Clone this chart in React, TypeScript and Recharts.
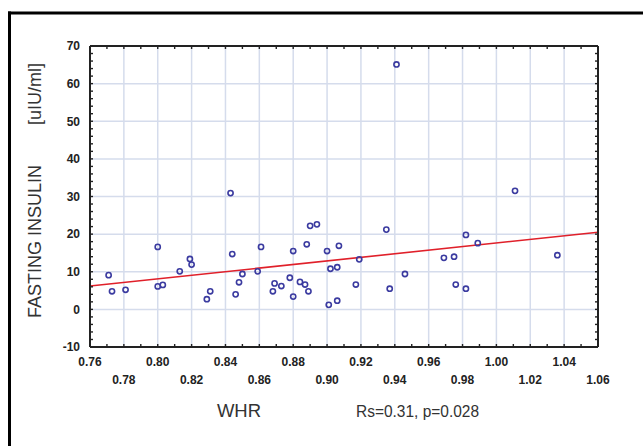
import React from 'react';
import { ScatterChart, Scatter, XAxis, YAxis, ReferenceLine } from 'recharts';

const whr = [0.771, 0.773, 0.781, 0.800, 0.800, 0.803, 0.813, 0.819, 0.820, 0.829, 0.831, 0.843, 0.844, 0.846, 0.848, 0.850, 0.859, 0.861, 0.868, 0.869, 0.873, 0.878, 0.880, 0.880, 0.884, 0.887, 0.889, 0.888, 0.890, 0.894, 0.900, 0.901, 0.902, 0.906, 0.906, 0.907, 0.917, 0.919, 0.935, 0.937, 0.941, 0.946, 0.969, 0.975, 0.976, 0.982, 0.982, 0.989, 1.011, 1.036];
const insulin = [9.1, 4.8, 5.2, 16.6, 6.1, 6.5, 10.1, 13.4, 11.9, 2.7, 4.8, 30.9, 14.7, 4.0, 7.2, 9.4, 10.1, 16.6, 4.8, 6.9, 6.2, 8.4, 15.5, 3.4, 7.3, 6.6, 4.8, 17.3, 22.2, 22.6, 15.5, 1.2, 10.8, 11.2, 2.3, 16.9, 6.6, 13.3, 21.2, 5.5, 65.1, 9.4, 13.7, 14.0, 6.6, 19.8, 5.5, 17.6, 31.5, 14.4];

const xTicks = [0.76, 0.77, 0.78, 0.79, 0.80, 0.81, 0.82, 0.83, 0.84, 0.85, 0.86, 0.87, 0.88, 0.89, 0.90, 0.91, 0.92, 0.93, 0.94, 0.95, 0.96, 0.97, 0.98, 0.99, 1.00, 1.01, 1.02, 1.03, 1.04, 1.05, 1.06];
const yTicks = [-10, -8, -6, -4, -2, 0, 2, 4, 6, 8, 10, 12, 14, 16, 18, 20, 22, 24, 26, 28, 30, 32, 34, 36, 38, 40, 42, 44, 46, 48, 50, 52, 54, 56, 58, 60, 62, 64, 66, 68, 70];
const xGrid = [0.78, 0.80, 0.82, 0.84, 0.86, 0.88, 0.90, 0.92, 0.94, 0.96, 0.98, 1.00, 1.02, 1.04];
const yGrid = [0, 10, 20, 30, 40, 50, 60];
const fitLine = [
  { x: 0.76, y: 6.2 },
  { x: 1.06, y: 20.5 },
];

const data = whr.map((x, i) => ({ x, y: insulin[i] }));

const FONT = '"Liberation Sans", Arial, sans-serif';
const TICK_LEN = 3;

const BottomTick = (props: any) => {
  const { x, y, payload } = props;
  const n = Math.round(payload.value * 100);
  const labeled = n % 2 === 0;
  const row1 = (n - 76) % 4 === 0;
  return (
    <g>
      <line x1={x} x2={x} y1={y} y2={y - TICK_LEN} stroke="#222" strokeWidth={1.4} />
      {labeled && (
        <text x={x} y={y + (row1 ? 19.3 : 36.8)} textAnchor="middle" fontFamily={FONT} fontSize={12} fontWeight="bold" fill="#222">
          {payload.value.toFixed(2)}
        </text>
      )}
    </g>
  );
};

const TopTick = (props: any) => {
  const { x, y } = props;
  return <line x1={x} x2={x} y1={y} y2={y + TICK_LEN} stroke="#222" strokeWidth={1.4} />;
};

const LeftTick = (props: any) => {
  const { x, y, payload } = props;
  const labeled = payload.value % 10 === 0;
  return (
    <g>
      <line x1={x} x2={x + TICK_LEN} y1={y} y2={y} stroke="#222" strokeWidth={1.4} />
      {labeled && (
        <text x={x - 10} y={y + 4.3} textAnchor="end" fontFamily={FONT} fontSize={12} fontWeight="bold" fill="#222">
          {payload.value}
        </text>
      )}
    </g>
  );
};

const RightTick = (props: any) => {
  const { x, y } = props;
  return <line x1={x} x2={x - TICK_LEN} y1={y} y2={y} stroke="#222" strokeWidth={1.4} />;
};

const Dot = (props: any) => (
  <circle cx={props.cx} cy={props.cy} r={2.6} fill="none" stroke="#3b3ba0" strokeWidth={1.6} />
);

export default function App() {
  return (
    <div style={{ position: 'absolute', left: 0, top: 0, width: 643, height: 446, background: '#fff' }}>
      <ScatterChart width={643} height={446} margin={{ top: 41, right: 40, bottom: 0, left: 0 }}>
        <XAxis
          dataKey="x"
          type="number"
          domain={[0.76, 1.06]}
          ticks={xTicks}
          interval={0}
          height={99}
          tickSize={0}
          tickMargin={0}
          tickLine={false}
          tick={<BottomTick />}
          axisLine={{ stroke: '#222', strokeWidth: 2 }}
          allowDataOverflow
        />
        <XAxis
          xAxisId="top"
          orientation="top"
          dataKey="x"
          type="number"
          domain={[0.76, 1.06]}
          ticks={xTicks}
          interval={0}
          height={5}
          tickSize={0}
          tickMargin={0}
          tickLine={false}
          tick={<TopTick />}
          axisLine={{ stroke: '#222', strokeWidth: 2 }}
          allowDataOverflow
        />
        <YAxis
          dataKey="y"
          type="number"
          domain={[-10, 70]}
          ticks={yTicks}
          interval={0}
          width={90}
          tickSize={0}
          tickMargin={0}
          tickLine={false}
          tick={<LeftTick />}
          axisLine={{ stroke: '#222', strokeWidth: 2 }}
          allowDataOverflow
        />
        <YAxis
          yAxisId="right"
          orientation="right"
          dataKey="y"
          type="number"
          domain={[-10, 70]}
          ticks={yTicks}
          interval={0}
          width={5}
          tickSize={0}
          tickMargin={0}
          tickLine={false}
          tick={<RightTick />}
          axisLine={{ stroke: '#222', strokeWidth: 2 }}
          allowDataOverflow
        />
        {xGrid.map((v) => (
          <ReferenceLine key={'gx' + v} x={v} stroke="#d5dcec" strokeWidth={1.5} />
        ))}
        {yGrid.map((v) => (
          <ReferenceLine key={'gy' + v} y={v} stroke="#d5dcec" strokeWidth={1.5} />
        ))}
        <ReferenceLine segment={fitLine} stroke="#e0202a" strokeWidth={1.6} />
        <Scatter data={data} shape={<Dot />} isAnimationActive={false} />
      </ScatterChart>
      <svg width={643} height={446} style={{ position: 'absolute', left: 0, top: 0, pointerEvents: 'none' }}>
        <line x1={8} x2={643} y1={13} y2={13} stroke="#000" strokeWidth={3} />
        <line x1={9.5} x2={9.5} y1={11.5} y2={446} stroke="#000" strokeWidth={3} />
        <text transform="translate(41,318) rotate(-90)" x={0} y={0} textAnchor="start" fontFamily={FONT} fontSize={18} fill="#333">
          FASTING INSULIN
        </text>
        <text transform="translate(41,125) rotate(-90)" x={0} y={0} textAnchor="start" fontFamily={FONT} fontSize={18} fill="#333">
          [uIU/ml]
        </text>
        <text x={239} y={417} textAnchor="middle" fontFamily={FONT} fontSize={18.5} fill="#333">
          WHR
        </text>
        <text x={356} y={417} textAnchor="start" fontFamily={FONT} fontSize={17} fill="#333" textLength={123} lengthAdjust="spacingAndGlyphs">
          Rs=0.31, p=0.028
        </text>
      </svg>
    </div>
  );
}
